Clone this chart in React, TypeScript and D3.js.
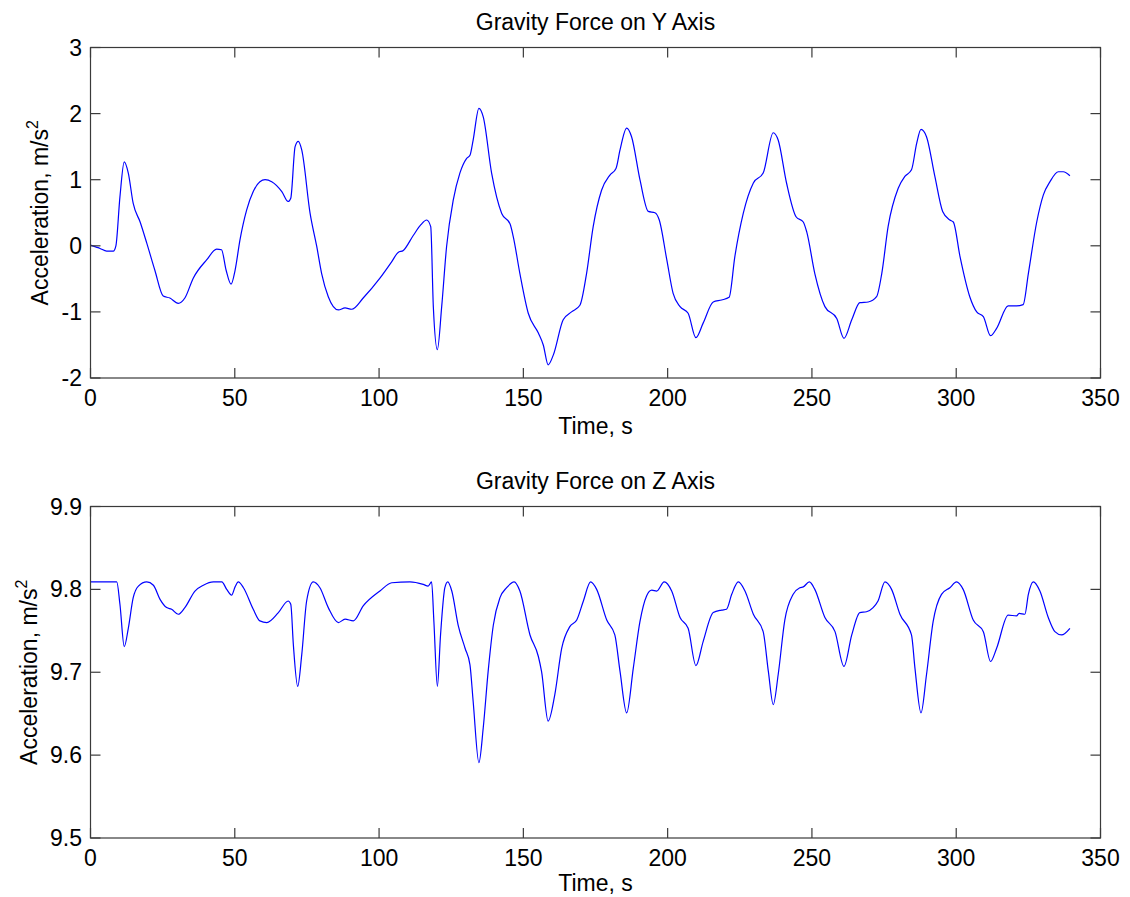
import React from "react";
import * as d3 from "d3";

const timeY = [0, 2.0, 3.3, 5.6, 7.9, 8.8, 10.2, 11.7, 13.1, 14.8, 17.2, 19.5, 22.3, 25.2, 27.5, 30.4, 32.7, 35.6, 40.3, 43.7, 45.4, 47.0, 48.7, 50.1, 51.8, 54.1, 56.4, 58.7, 60.5, 62.8, 66.3, 68.5, 69.4, 70.9, 72.0, 73.2, 76.1, 78.4, 80.1, 82.4, 85.9, 88.2, 90.5, 94.5, 100.3, 104.4, 106.6, 108.4, 111.9, 114.5, 116.5, 117.9, 118.8, 120.2, 121.7, 123.4, 125.7, 128.0, 130.3, 131.5, 132.6, 134.6, 136.1, 139.0, 142.5, 145.4, 146.5, 148.8, 151.7, 155.2, 156.9, 158.6, 160.4, 163.8, 166.7, 169.6, 171.9, 174.2, 177.1, 180.0, 182.1, 183.5, 185.8, 187.5, 190.4, 193.3, 195.6, 197.1, 199.7, 201.9, 204.3, 207.1, 209.8, 212.3, 215.8, 218.7, 221.3, 223.3, 226.2, 229.7, 233.1, 236.6, 238.3, 241.2, 244.5, 247.0, 248.2, 251.0, 254.5, 258.6, 261.1, 263.8, 266.6, 269.5, 272.4, 274.2, 276.4, 279.9, 282.2, 284.5, 286.3, 287.8, 289.7, 292.6, 295.3, 297.8, 299.0, 301.3, 304.7, 307.1, 309.4, 311.9, 314.0, 318.0, 320.9, 323.2, 325.0, 327.9, 330.2, 332.5, 335.4, 337.1, 339.4];
const accY = [0.01, -0.02, -0.04, -0.08, -0.08, 0.0, 0.74, 1.27, 1.10, 0.64, 0.36, 0.04, -0.37, -0.76, -0.79, -0.87, -0.79, -0.49, -0.21, -0.05, -0.06, -0.37, -0.58, -0.37, 0.09, 0.54, 0.82, 0.97, 1.0, 0.97, 0.82, 0.67, 0.72, 1.50, 1.58, 1.45, 0.49, -0.01, -0.42, -0.77, -0.97, -0.94, -0.96, -0.79, -0.49, -0.24, -0.10, -0.07, 0.16, 0.32, 0.39, 0.29, -0.92, -1.57, -0.92, -0.01, 0.69, 1.10, 1.32, 1.37, 1.60, 2.08, 1.95, 1.10, 0.49, 0.33, 0.14, -0.42, -1.02, -1.32, -1.50, -1.80, -1.65, -1.12, -1.00, -0.90, -0.42, 0.29, 0.84, 1.07, 1.17, 1.45, 1.78, 1.65, 1.00, 0.52, 0.50, 0.39, -0.21, -0.72, -0.92, -1.02, -1.39, -1.17, -0.85, -0.82, -0.78, -0.16, 0.49, 0.95, 1.10, 1.71, 1.60, 0.95, 0.44, 0.36, 0.21, -0.42, -0.92, -1.10, -1.40, -1.12, -0.86, -0.85, -0.77, -0.42, 0.29, 0.87, 1.05, 1.15, 1.55, 1.76, 1.65, 1.05, 0.52, 0.39, 0.36, -0.16, -0.77, -1.00, -1.07, -1.36, -1.25, -0.91, -0.91, -0.89, -0.42, 0.36, 0.77, 0.97, 1.12, 1.12, 1.06];

const timeZ = [0, 9.1, 10.2, 11.7, 13.1, 14.8, 16.6, 19.5, 21.8, 24.1, 26.4, 28.1, 30.4, 32.7, 36.2, 39.1, 42.6, 45.5, 47.2, 48.9, 50.1, 51.2, 53.0, 56.4, 58.7, 61.1, 65.1, 68.5, 69.4, 70.3, 71.8, 73.2, 74.9, 77.2, 79.5, 82.4, 85.9, 88.2, 91.1, 94.5, 100.3, 104.4, 110.7, 115.3, 117.0, 118.2, 119.0, 120.2, 121.3, 122.8, 123.8, 125.2, 127.4, 129.8, 131.5, 132.6, 134.6, 136.1, 137.8, 139.6, 141.9, 144.2, 146.8, 148.8, 152.3, 155.2, 156.3, 158.6, 160.9, 163.3, 166.1, 168.5, 170.8, 173.3, 175.4, 178.9, 181.7, 183.5, 185.8, 188.1, 190.4, 192.7, 194.5, 196.2, 198.8, 201.4, 204.3, 207.1, 209.8, 212.3, 215.8, 218.7, 220.4, 222.2, 224.5, 226.8, 229.7, 233.1, 234.9, 236.6, 238.3, 240.6, 243.5, 245.8, 247.0, 249.1, 251.0, 254.5, 258.0, 261.1, 263.8, 266.6, 268.9, 271.2, 272.9, 275.3, 277.6, 280.5, 284.5, 285.7, 287.8, 289.7, 292.0, 294.9, 297.8, 300.1, 302.4, 305.9, 309.4, 311.9, 314.0, 318.0, 320.9, 321.8, 323.8, 325.0, 326.7, 329.0, 331.9, 334.2, 336.5, 339.4];
const accZ = [9.809, 9.809, 9.782, 9.731, 9.753, 9.790, 9.804, 9.809, 9.805, 9.788, 9.778, 9.776, 9.770, 9.778, 9.798, 9.805, 9.809, 9.809, 9.800, 9.793, 9.803, 9.809, 9.802, 9.776, 9.762, 9.760, 9.772, 9.786, 9.782, 9.733, 9.683, 9.721, 9.786, 9.809, 9.802, 9.778, 9.760, 9.764, 9.762, 9.780, 9.798, 9.808, 9.809, 9.806, 9.804, 9.809, 9.761, 9.683, 9.745, 9.802, 9.809, 9.798, 9.757, 9.729, 9.709, 9.665, 9.591, 9.633, 9.701, 9.757, 9.790, 9.802, 9.809, 9.798, 9.745, 9.719, 9.701, 9.641, 9.673, 9.729, 9.755, 9.763, 9.786, 9.809, 9.800, 9.763, 9.745, 9.701, 9.651, 9.705, 9.761, 9.792, 9.799, 9.798, 9.809, 9.798, 9.766, 9.753, 9.708, 9.737, 9.772, 9.775, 9.776, 9.794, 9.809, 9.798, 9.770, 9.749, 9.701, 9.661, 9.697, 9.763, 9.794, 9.802, 9.803, 9.809, 9.800, 9.766, 9.749, 9.707, 9.745, 9.772, 9.773, 9.778, 9.786, 9.809, 9.800, 9.770, 9.745, 9.705, 9.651, 9.697, 9.761, 9.794, 9.802, 9.809, 9.800, 9.763, 9.749, 9.713, 9.729, 9.769, 9.768, 9.771, 9.770, 9.794, 9.809, 9.798, 9.766, 9.749, 9.745, 9.753];

const xTicks = [0, 50, 100, 150, 200, 250, 300, 350];
const yTicksY = [-2, -1, 0, 1, 2, 3];
const yTicksZ = [9.5, 9.6, 9.7, 9.8, 9.9];

const FONT = "'Liberation Sans', Arial, Helvetica, sans-serif";
const FS = 23;

type PanelProps = {
  top: number;
  bottom: number;
  title: string;
  times: number[];
  values: number[];
  yDomain: [number, number];
  yTicks: number[];
  yFmt: (v: number) => string;
  labelX: number;
  xLabelY: number;
};

function Panel({ top, bottom, title, times, values, yDomain, yTicks, yFmt, labelX, xLabelY }: PanelProps) {
  const left = 90.5;
  const right = 1100.5;
  const x = d3.scaleLinear().domain([0, 350]).range([left, right]);
  const y = d3.scaleLinear().domain(yDomain).range([bottom, top]);
  const pts: [number, number][] = times.map((t, i) => [t, values[i]]);
  const line = d3
    .line<[number, number]>()
    .x((d) => x(d[0]))
    .y((d) => y(d[1]))
    .curve(d3.curveMonotoneX);
  const tickLen = 10;
  const axisColor = "#3a3a3a";
  const cy = (top + bottom) / 2;
  return (
    <g>
      <text x={(left + right) / 2} y={top - 17.5} textAnchor="middle" fontFamily={FONT} fontSize={FS} fill="#000">
        {title}
      </text>
      <path d={line(pts) || ""} fill="none" stroke="#0000ff" strokeWidth={1.2} />
      <rect x={left} y={top} width={right - left} height={bottom - top} fill="none" stroke={axisColor} strokeWidth={1.2} />
      {xTicks.map((t) => (
        <g key={"x" + t}>
          <line x1={x(t)} x2={x(t)} y1={bottom} y2={bottom - tickLen} stroke={axisColor} strokeWidth={1.2} />
          <line x1={x(t)} x2={x(t)} y1={top} y2={top + tickLen} stroke={axisColor} strokeWidth={1.2} />
          <text x={x(t)} y={bottom + 27.5} textAnchor="middle" fontFamily={FONT} fontSize={FS} fill="#000">
            {t}
          </text>
        </g>
      ))}
      {yTicks.map((v) => (
        <g key={"y" + v}>
          <line x1={left} x2={left + tickLen} y1={y(v)} y2={y(v)} stroke={axisColor} strokeWidth={1.2} />
          <line x1={right} x2={right - tickLen} y1={y(v)} y2={y(v)} stroke={axisColor} strokeWidth={1.2} />
          <text x={82} y={y(v) + 8} textAnchor="end" fontFamily={FONT} fontSize={FS} fill="#000">
            {yFmt(v)}
          </text>
        </g>
      ))}
      <text x={(left + right) / 2} y={xLabelY} textAnchor="middle" fontFamily={FONT} fontSize={FS} fill="#000">
        Time, s
      </text>
      <text
        transform={`translate(${labelX},${cy}) rotate(-90)`}
        textAnchor="middle"
        fontFamily={FONT}
        fontSize={FS}
        fill="#000"
      >
        Acceleration, m/s
        <tspan fontSize={16} dy={-10}>2</tspan>
      </text>
    </g>
  );
}

export default function App() {
  return (
    <svg
      width={1130}
      height={897}
      style={{ position: "absolute", left: 0, top: 0, background: "#fff", display: "block" }}
    >
      <rect x={0} y={0} width={1130} height={897} fill="#fff" />
      <Panel
        top={47.5}
        bottom={378}
        title="Gravity Force on Y Axis"
        times={timeY}
        values={accY}
        yDomain={[-2, 3]}
        yTicks={yTicksY}
        yFmt={(v) => String(v)}
        labelX={48}
        xLabelY={434}
      />
      <Panel
        top={506.5}
        bottom={838}
        title="Gravity Force on Z Axis"
        times={timeZ}
        values={accZ}
        yDomain={[9.5, 9.9]}
        yTicks={yTicksZ}
        yFmt={(v) => v.toFixed(1)}
        labelX={37}
        xLabelY={891}
      />
    </svg>
  );
}
